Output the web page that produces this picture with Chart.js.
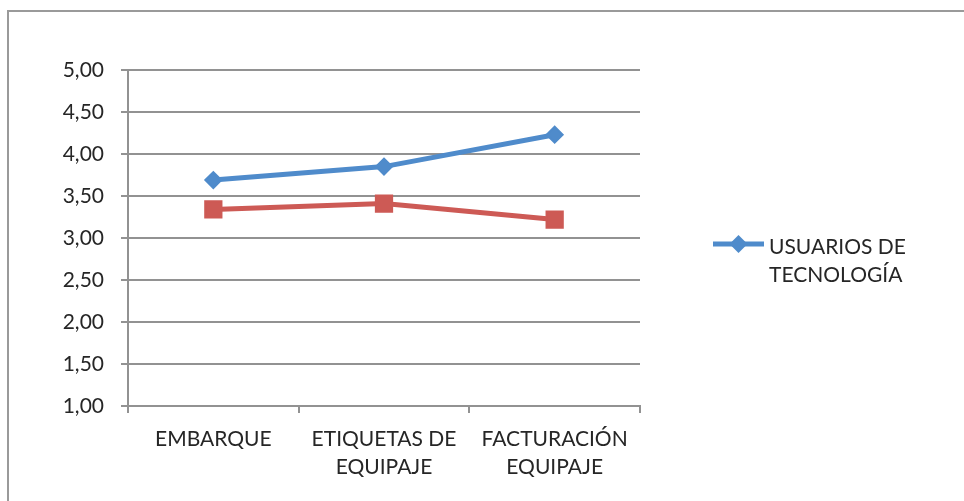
<!DOCTYPE html>
<html>
<head>
<meta charset="utf-8">
<script src="https://cdn.jsdelivr.net/npm/chart.js@4.4.0/dist/chart.umd.min.js"></script>
<style>
  html, body { margin: 0; padding: 0; background: #fff; }
  #wrap { position: relative; width: 964px; height: 501px; overflow: hidden; }
  #marco { position: absolute; left: 7px; top: 10px; width: 1000px; height: 560px; border: 2px solid #9a9a9a; box-sizing: border-box; }
  canvas { position: absolute; left: 0; top: 0; }
</style>
</head>
<body>
<div id="wrap">
  <div id="marco"></div>
  <canvas id="grafico" width="964" height="501"></canvas>
</div>
<script>
var categorias = [['EMBARQUE'], ['ETIQUETAS DE', 'EQUIPAJE'], ['FACTURACIÓN', 'EQUIPAJE']];
var usuarios = [3.69, 3.85, 4.23];
var noUsuarios = [3.34, 3.41, 3.22];
var nombreUsuarios = 'USUARIOS DE TECNOLOGÍA';
var nombreNoUsuarios = 'NO USUARIOS DE TECNOLOGÍA';
var leyendaLineas = ['USUARIOS DE', 'TECNOLOGÍA'];

var azul = '#4F8BCB';
var rojo = '#CD5A55';
var gris = '#929292';
var texto = '#262626';
var fuente = { family: 'Lato', size: 21 };

// leyenda a mano: solo se ve la serie azul, en dos lineas
var leyenda = {
  id: 'leyenda',
  afterDraw: function(chart) {
    var ctx = chart.ctx;
    var x0 = 713, x1 = 764, y = 244;
    ctx.save();
    ctx.strokeStyle = azul;
    ctx.lineWidth = 5;
    ctx.beginPath();
    ctx.moveTo(x0, y);
    ctx.lineTo(x1, y);
    ctx.stroke();
    var cx = (x0 + x1) / 2, r = 9;
    ctx.fillStyle = azul;
    ctx.beginPath();
    ctx.moveTo(cx - r, y);
    ctx.lineTo(cx, y - r);
    ctx.lineTo(cx + r, y);
    ctx.lineTo(cx, y + r);
    ctx.closePath();
    ctx.fill();
    ctx.fillStyle = texto;
    ctx.font = '21px Lato';
    ctx.textBaseline = 'middle';
    ctx.textAlign = 'left';
    for (var i = 0; i < leyendaLineas.length; i++) {
      ctx.fillText(leyendaLineas[i], 769, 247 + i * 28);
    }
    ctx.restore();
  }
};

var ctx = document.getElementById('grafico').getContext('2d');
var chart = new Chart(ctx, {
  type: 'line',
  data: {
    labels: categorias,
    datasets: [{
      label: nombreUsuarios,
      data: usuarios,
      borderColor: azul,
      backgroundColor: azul,
      borderWidth: 5,
      pointStyle: 'rectRot',
      pointRadius: 8,
      pointBorderWidth: 2,
      tension: 0
    }, {
      label: nombreNoUsuarios,
      data: noUsuarios,
      borderColor: rojo,
      backgroundColor: rojo,
      borderWidth: 5,
      pointStyle: 'rect',
      pointRadius: 11.5,
      pointBorderWidth: 2,
      tension: 0
    }]
  },
  options: {
    responsive: false,
    animation: false,
    layout: { padding: { left: 0, top: 70, right: 324, bottom: 0 } },
    plugins: {
      legend: { display: false },
      tooltip: { enabled: false }
    },
    scales: {
      x: {
        offset: true,
        grid: { offset: true, drawOnChartArea: false, color: gris, lineWidth: 2, tickLength: 7 },
        border: { color: gris, width: 2 },
        ticks: { color: texto, font: { family: 'Lato', size: 21, lineHeight: 1.33 }, padding: 12, maxRotation: 0 },
        afterFit: function(scale) { scale.height = 95; }
      },
      y: {
        min: 1,
        max: 5,
        grid: { color: gris, lineWidth: 2, tickLength: 7 },
        border: { color: gris, width: 2 },
        ticks: {
          stepSize: 0.5,
          color: texto,
          font: fuente,
          padding: 17,
          callback: function(v) { return v.toFixed(2).replace('.', ','); }
        },
        afterFit: function(scale) { scale.width = 128; }
      }
    }
  },
  plugins: [leyenda]
});
</script>
</body>
</html>
